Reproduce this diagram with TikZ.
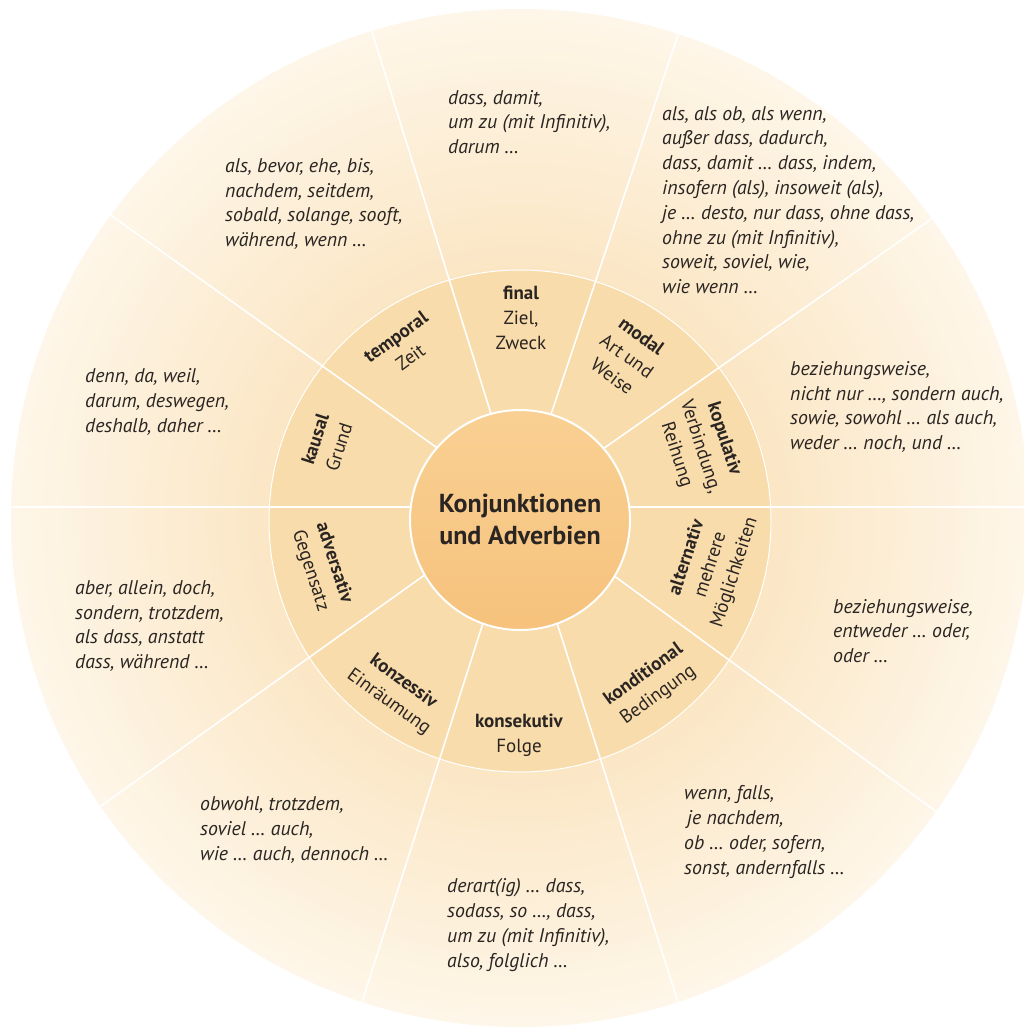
\documentclass[tikz,border=0pt]{standalone}
\usepackage{fontspec}
\setmainfont{PT Sans}
\definecolor{txt}{HTML}{2A2522}
\definecolor{innerc}{HTML}{F9DCAB}
\definecolor{ctop}{HTML}{F9D093}
\definecolor{cbot}{HTML}{F6C27C}
\definecolor{ringin}{HTML}{FBE6C4}
\definecolor{ringout}{HTML}{FEF6E8}
\begin{document}
\begin{tikzpicture}[x=1pt,y=-1pt,
  lab/.style={align=center, font=\fontsize{19}{25}\selectfont, text=txt, inner sep=0pt},
  ex/.style={align=left, anchor=west, font=\itshape\fontsize{19.8}{24.8}\selectfont, text=txt, inner sep=0pt},
  sep/.style={draw=white, line width=1.6pt}]
\fill[white] (0,0) rectangle (1024,1031);
\useasboundingbox (0,0) rectangle (1024,1031);
% outer ring (stepped radial gradient)
\foreach \i in {0,...,25} {
  \pgfmathsetmacro\rr{509-\i*10.3}
  \pgfmathtruncatemacro\pp{\i*4}
  \fill[ringin!\pp!ringout] (520,518) circle[radius=\rr pt];
}
% inner ring
\fill[innerc] (520,521) circle[radius=251pt];
\draw[white, line width=1pt] (520,521) circle[radius=251pt];
% separators
\coordinate (O) at (520,507);
\begin{scope}
\clip (520,518) circle[radius=509pt];
\foreach \a in {0,35,71.5,107.3,144.5,180,215.5,252.3,287.7,323.8}
  \draw[sep] (O) -- ++(-\a:600);
\end{scope}
% centre
\shade[top color=ctop, bottom color=cbot] (520,520) circle[radius=110pt];
\draw[white, line width=2pt] (520,520) circle[radius=110pt];
\node[align=center, font=\bfseries\fontsize{26}{32}\selectfont, text=txt, inner sep=0pt] (c) at (520,519) {Konjunktionen\\und Adverbien};
% inner labels
\node[lab] (lfin) at (521,318) {\textbf{final}\\Ziel,\\Zweck};
\node[lab, rotate=-36] (lmod) at (627,356) {\textbf{modal}\\Art und\\Weise};
\node[lab, rotate=-72] (lkop) at (700,447) {\textbf{kopulativ}\\Verbindung,\\Reihung};
\node[lab, rotate=72] (lalt) at (711,565) {\textbf{alternativ}\\mehrere\\Möglichkeiten};
\node[lab, rotate=36] (lkond) at (651,685) {\textbf{konditional}\\Bedingung};
\node[lab] (lkons) at (519,735) {\textbf{konsekutiv}\\Folge};
\node[lab, rotate=-36] (lkonz) at (396,692) {\textbf{konzessiv}\\Einräumung};
\node[lab, rotate=-72] (ladv) at (322,567) {\textbf{adversativ}\\Gegensatz};
\node[lab, rotate=72] (lkau) at (327,443) {\textbf{kausal}\\Grund};
\node[lab, rotate=36] (ltemp) at (403,347) {\textbf{temporal}\\Zeit};
% outer examples
\node[ex] (etemp) at (225,204) {als, bevor, ehe, bis,\\nachdem, seitdem,\\sobald, solange, sooft,\\während, wenn …};
\node[ex] (efin) at (448,122) {dass, damit,\\um zu (mit Infinitiv),\\darum …};
\node[ex] (emod) at (662,200) {als, als ob, als wenn,\\außer dass, dadurch,\\dass, damit … dass, indem,\\insofern (als), insoweit (als),\\je … desto, nur dass, ohne dass,\\ohne zu (mit Infinitiv),\\soweit, soviel, wie,\\wie wenn …};
\node[ex] (ekop) at (790,407) {beziehungsweise,\\nicht nur …, sondern auch,\\sowie, sowohl … als auch,\\weder … noch, und …};
\node[ex] (ealt) at (833,631) {beziehungsweise,\\entweder … oder,\\oder …};
\node[ex] (ekond) at (684,832) {wenn, falls,\\\hspace*{3pt}je nachdem,\\ob … oder, sofern,\\sonst, andernfalls …};
\node[ex] (ekons) at (447,925) {derart(ig) … dass,\\sodass, so …, dass,\\um zu (mit Infinitiv),\\also, folglich …};
\node[ex] (ekonz) at (200,830) {obwohl, trotzdem,\\soviel … auch,\\wie … auch, dennoch …};
\node[ex] (eadv) at (75,626) {aber, allein, doch,\\sondern, trotzdem,\\als dass, anstatt\\dass, während …};
\node[ex] (ekau) at (85,402) {denn, da, weil,\\darum, deswegen,\\deshalb, daher …};
\end{tikzpicture}
\end{document}
